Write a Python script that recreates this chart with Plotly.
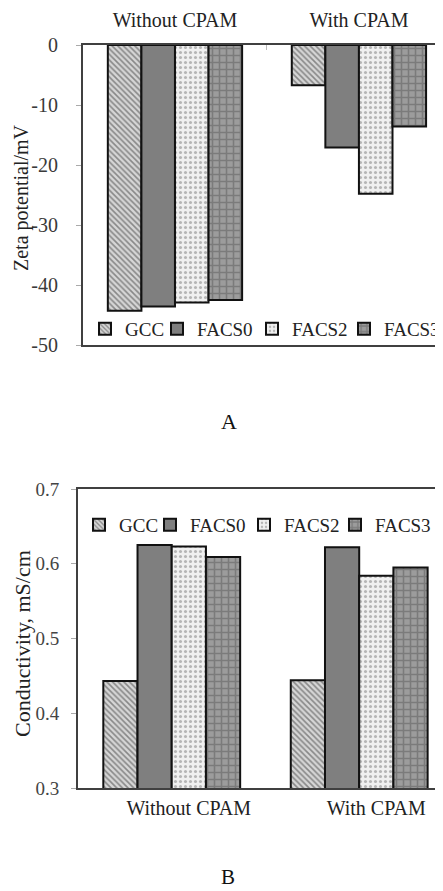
import plotly.graph_objects as go

# ---------------- data ----------------
categories = ["Without CPAM", "With CPAM"]
series_names = ["GCC", "FACS0", "FACS2", "FACS3"]

zeta_gcc = [-44.3, -6.7]
zeta_facs0 = [-43.6, -17.1]
zeta_facs2 = [-42.9, -24.8]
zeta_facs3 = [-42.5, -13.6]

cond_gcc = [0.443, 0.444]
cond_facs0 = [0.625, 0.622]
cond_facs2 = [0.623, 0.584]
cond_facs3 = [0.609, 0.595]

zeta_tickvals = [0, -10, -20, -30, -40, -50]
zeta_ticktext = ["0", "-10", "-20", "-30", "-40", "-50"]
cond_tickvals = [0.3, 0.4, 0.5, 0.6, 0.7]
cond_ticktext = ["0.3", "0.4", "0.5", "0.6", "0.7"]

zeta_title = "Zeta potential/mV"
cond_title = "Conductivity, mS/cm"

# ---------------- styles ----------------
OFF = 8                      # page body margin
W, H = 443 - OFF, 891 - OFF
FONT = "Liberation Serif, Times New Roman, serif"

styles = {
    "GCC": dict(color="#cfcfcf", pattern=dict(shape="\\", fgcolor="#3a3a3a", bgcolor="#d6d6d6", size=4, solidity=0.4)),
    "FACS0": dict(color="#7f7f7f"),
    "FACS2": dict(color="#ececec", pattern=dict(shape=".", fgcolor="#7a7a7a", bgcolor="#f0f0f0", size=5, solidity=0.3)),
    "FACS3": dict(color="#8f8f8f", pattern=dict(shape="+", fgcolor="#5a5a5a", bgcolor="#9c9c9c", size=7, solidity=0.4)),
}

fig = go.Figure()

zeta_vals = [zeta_gcc, zeta_facs0, zeta_facs2, zeta_facs3]
cond_vals = [cond_gcc, cond_facs0, cond_facs2, cond_facs3]

for i, (name, vals) in enumerate(zip(series_names, zeta_vals)):
    fig.add_trace(go.Bar(
        x=categories, y=vals, name=name, xaxis="x", yaxis="y",
        marker=dict(line=dict(color="#111", width=2), **styles[name]),
        legend=f"legend{i+2}",
    ))
for i, (name, vals) in enumerate(zip(series_names, cond_vals)):
    fig.add_trace(go.Bar(
        x=categories, y=vals, name=name, xaxis="x2", yaxis="y2",
        marker=dict(line=dict(color="#111", width=2), **styles[name]),
        legend=f"legend{i+6}",
    ))

def px(v):
    return (v - OFF) / W

def py(v):
    return 1 - (v - OFF) / H

axis_common = dict(showgrid=False, zeroline=False, showline=True, linecolor="#404040", linewidth=2)

fig.update_layout(
    width=W, height=H,
    margin=dict(l=0, r=0, t=0, b=0, autoexpand=False),
    paper_bgcolor="white", plot_bgcolor="white",
    font=dict(family=FONT, size=20, color="#222"),
    barmode="group", bargap=0.27, bargroupgap=0,
    xaxis=dict(domain=[px(83), 1], anchor="y", side="top", range=[-0.5, 1.457],
               mirror=True, ticks="inside", tickson="boundaries", ticklen=5, tickcolor="#bbbbbb",
               ticklabelstandoff=8, tickfont=dict(size=20, color="#222"), **axis_common),
    yaxis=dict(domain=[py(345), py(45)], anchor="x", range=[-50, 0],
               tickvals=zeta_tickvals, ticktext=zeta_ticktext,
               ticks="outside", ticklen=5, tickcolor="#aaaaaa", ticklabelstandoff=14,
               tickfont=dict(size=20, color="#3a3a3a"),
               **axis_common),
    xaxis2=dict(domain=[px(78), 1], anchor="y2", side="bottom", range=[-0.5, 1.447],
                mirror=True, ticks="", ticklabelstandoff=1, ticklabelshift=17,
                tickfont=dict(size=20, color="#222"), **axis_common),
    yaxis2=dict(domain=[py(788), py(489)], anchor="x2", range=[0.3, 0.7],
                tickvals=cond_tickvals, ticktext=cond_ticktext,
                ticks="outside", ticklen=5, tickcolor="#aaaaaa", ticklabelstandoff=8,
                tickfont=dict(size=19, color="#444"),
                **axis_common),
)

legend_common = dict(bgcolor="rgba(0,0,0,0)", font=dict(family=FONT, size=19, color="#222"),
                     xanchor="left", yanchor="middle", itemwidth=30, borderwidth=0)
a_legend_text_x = [123, 195, 290, 382]
b_legend_text_x = [117, 188, 282, 373]
for i in range(4):
    fig.update_layout({f"legend{i+2}": dict(x=px(a_legend_text_x[i] - 38), y=py(329), **legend_common)})
for i in range(4):
    fig.update_layout({f"legend{i+6}": dict(x=px(b_legend_text_x[i] - 38), y=py(525), **legend_common)})

# y-axis titles
fig.add_annotation(text=zeta_title, x=px(22), y=py(198), xref="paper", yref="paper",
                   xanchor="center", yanchor="middle",
                   textangle=-90, showarrow=False, font=dict(family=FONT, size=20, color="#222"))
fig.add_annotation(text=cond_title, x=px(22), y=py(644), xref="paper", yref="paper",
                   xanchor="center", yanchor="middle",
                   textangle=-90, showarrow=False, font=dict(family=FONT, size=22, color="#222"))

# panel labels
fig.add_annotation(text="A", x=px(229), y=py(422), xref="paper", yref="paper",
                   xanchor="center", yanchor="middle",
                   showarrow=False, font=dict(family=FONT, size=22, color="#111"))
fig.add_annotation(text="B", x=px(228), y=py(877), xref="paper", yref="paper",
                   xanchor="center", yanchor="middle", borderpad=0,
                   showarrow=False, font=dict(family=FONT, size=21, color="#111"))

fig.write_html("out.html")
